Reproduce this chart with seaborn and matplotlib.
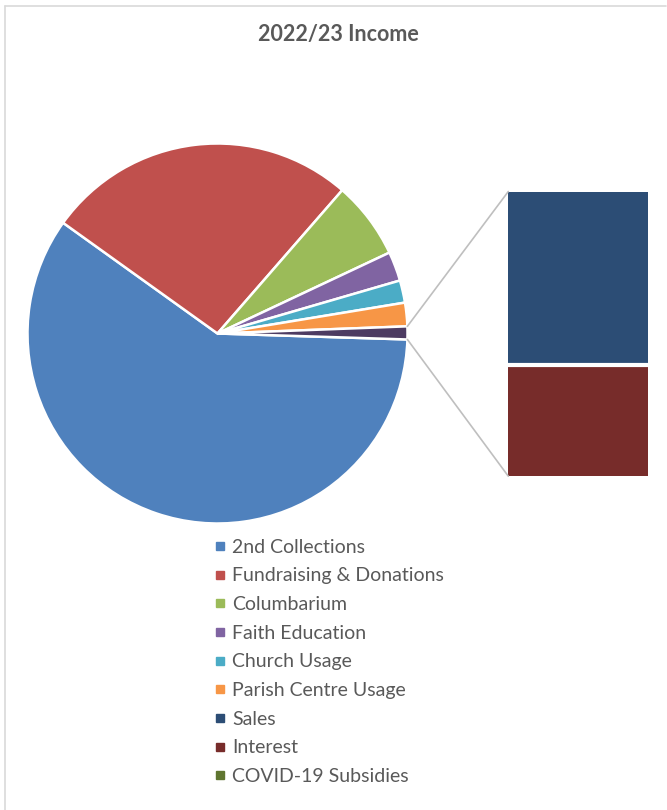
import matplotlib
matplotlib.use("Agg")
import matplotlib.pyplot as plt
import seaborn as sns
import numpy as np
from matplotlib.lines import Line2D
from matplotlib.patches import ConnectionPatch

# main pie categories (the "other" slice is broken out in the bar)
pie_labels = ["2nd Collections", "Fundraising & Donations", "Columbarium",
              "Faith Education", "Church Usage", "Parish Centre Usage"]
pie_values = [59.4, 26.5, 6.6, 2.5, 1.9, 2.0]

# categories shown in the bar of pie
bar_labels = ["Sales", "Interest", "COVID-19 Subsidies"]
bar_values = [0.67, 0.43, 0.0]

pie_colors = ["#4F81BD", "#C0504D", "#9BBB59", "#8064A2", "#4BACC6", "#F79646"]
other_color = "#4D3B62"
bar_colors = ["#2C4D75", "#772C2A", "#5F7530"]

sns.set_theme(style="white")
plt.rcParams["font.family"] = ["Lato", "DejaVu Sans"]

W, H = 667, 810
fig = plt.figure(figsize=(W / 100, H / 100), dpi=100)

def px_axes(x0, y0, x1, y1):
    # axes from a pixel box (top-left origin)
    return fig.add_axes([x0 / W, 1 - y1 / H, (x1 - x0) / W, (y1 - y0) / H])

# pie
cx, cy, r = 217.5, 333.5, 190
ax_pie = px_axes(cx - r, cy - r, cx + r, cy + r)
other_total = sum(bar_values)
vals = pie_values + [other_total]
wedges, _ = ax_pie.pie(vals, colors=pie_colors + [other_color], startangle=358.2,
                       counterclock=False, radius=1,
                       wedgeprops=dict(edgecolor="white", linewidth=1.8))
ax_pie.set_xlim(-1, 1)
ax_pie.set_ylim(-1, 1)
ax_pie.set_aspect("equal")
ax_pie.axis("off")

# bar of pie
ax_bar = px_axes(508.3, 191.5, 648.3, 476.2)
top = other_total
for v, c in zip(bar_values, bar_colors):
    ax_bar.bar(0, v, bottom=top - v, width=1, color=c, linewidth=0)
    top -= v
# white gap between the stacked segments
ax_bar.axhline(other_total - bar_values[0], color="white", linewidth=3)
ax_bar.set_xlim(-0.5, 0.5)
ax_bar.set_ylim(0, other_total)
ax_bar.axis("off")

# connector lines
w_other = wedges[-1]
for ang, yb in [(w_other.theta2, other_total), (w_other.theta1, 0)]:
    a = np.deg2rad(ang)
    con = ConnectionPatch(xyA=(np.cos(a), np.sin(a)), coordsA=ax_pie.transData,
                          xyB=(-0.5, yb), coordsB=ax_bar.transData,
                          color="#BFBFBF", linewidth=1.2)
    fig.add_artist(con)

# title
fig.text(338 / W, 1 - 35 / H, "2022/23 Income", ha="center", va="center",
         fontsize=15.5, fontweight="bold", color="#595959")

# legend
handles = [Line2D([], [], marker="s", linestyle="none", markersize=6,
                  markerfacecolor=c, markeredgecolor=c)
           for c in pie_colors + bar_colors]
fig.legend(handles, pie_labels + bar_labels, loc="upper left",
           bbox_to_anchor=(205 / W, 1 - 531 / H), frameon=False,
           fontsize=14, labelcolor="#595959", handlelength=0.7,
           handletextpad=0.3, labelspacing=0.6, borderaxespad=0)

# screenshot border (top and left)
fig.add_artist(Line2D([5 / W, 666 / W], [1 - 6 / H, 1 - 6 / H], color="#D9D9D9", linewidth=1.2))
fig.add_artist(Line2D([5 / W, 5 / W], [0, 1 - 6 / H], color="#D9D9D9", linewidth=1.2))

fig.savefig("out.png", dpi=100, facecolor="white")
